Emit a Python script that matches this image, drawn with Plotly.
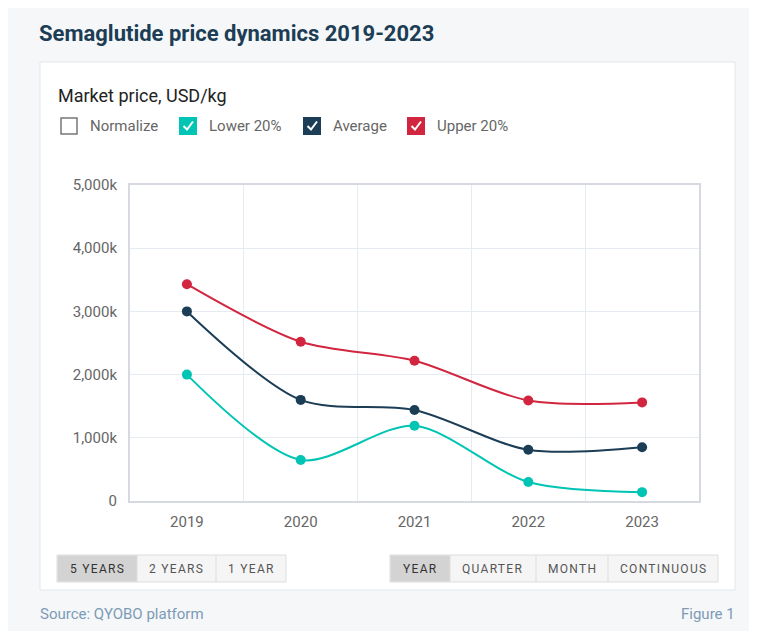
import plotly.graph_objects as go

# ---------------- data ----------------
years = ["2019", "2020", "2021", "2022", "2023"]
lower_20 = [2000000, 650000, 1190000, 300000, 140000]
average = [3000000, 1600000, 1440000, 810000, 850000]
upper_20 = [3430000, 2520000, 2220000, 1590000, 1560000]
y_tick_vals = [0, 1000000, 2000000, 3000000, 4000000, 5000000]
y_tick_text = ["0", "1,000k", "2,000k", "3,000k", "4,000k", "5,000k"]

series_names = ["Lower 20%", "Average", "Upper 20%"]
series_values = [lower_20, average, upper_20]
series_colors = ["#00c4b4", "#1b3d56", "#d2253f"]

# ---------------- geometry ----------------
W, H = 757, 623
OX, OY = 8, 8  # page offset of the figure
L, T = 122, 177
PW, PH = 569, 316
R, B = W - L - PW, H - T - PH


def X(px):
    return (px - OX - L) / PW


def Y(py):
    return 1 - (py - OY - T) / PH


FONT = "Roboto"
xs = list(range(len(years)))

fig = go.Figure()
for name, vals, col in zip(series_names, series_values, series_colors):
    fig.add_trace(go.Scatter(
        x=xs, y=vals, name=name, mode="lines+markers",
        line=dict(color=col, width=2, shape="spline", smoothing=0.85),
        marker=dict(color=col, size=10),
        showlegend=False,
    ))

shapes = []
annotations = []

# white panel
shapes.append(dict(type="rect", xref="paper", yref="paper", layer="below",
                   x0=X(40), x1=X(735), y0=Y(590), y1=Y(62),
                   fillcolor="white", line=dict(color="#e3e7eb", width=1)))

# title
annotations.append(dict(text="<b>Semaglutide price dynamics 2019-2023</b>", xref="paper", yref="paper",
                        x=X(37), y=Y(33), xanchor="left", yanchor="middle", showarrow=False,
                        font=dict(family=FONT, size=22, color="#1c3d54")))
annotations.append(dict(text="Market price, USD/kg", xref="paper", yref="paper",
                        x=X(56), y=Y(95), xanchor="left", yanchor="middle", showarrow=False,
                        font=dict(family=FONT, size=18, color="#222222")))

# checkbox legend
boxes = [("Normalize", 60, None), ("Lower 20%", 179, series_colors[0]),
         ("Average", 303, series_colors[1]), ("Upper 20%", 407, series_colors[2])]
for label, bx, col in boxes:
    y0, y1 = 117, 134
    if col is None:
        shapes.append(dict(type="rect", xref="paper", yref="paper",
                           x0=X(bx + 1), x1=X(bx + 17), y0=Y(y1), y1=Y(y0 + 1),
                           fillcolor="white", line=dict(color="#777777", width=1.5)))
    else:
        shapes.append(dict(type="rect", xref="paper", yref="paper",
                           x0=X(bx), x1=X(bx + 18), y0=Y(y1 + 1), y1=Y(y0),
                           fillcolor=col, line=dict(color=col, width=0)))
        path = "M {:.5f},{:.5f} L {:.5f},{:.5f} L {:.5f},{:.5f}".format(
            X(bx + 4.5), Y(126), X(bx + 8), Y(129.5), X(bx + 14), Y(121.5))
        shapes.append(dict(type="path", xref="paper", yref="paper", path=path,
                           line=dict(color="white", width=2)))
    annotations.append(dict(text=label, xref="paper", yref="paper",
                            x=X(bx + 28), y=Y(126), xanchor="left", yanchor="middle", showarrow=False,
                            font=dict(family=FONT, size=15, color="#666666")))

# button groups
button_groups = [
    [("5 YEARS", 57, 137, True), ("2 YEARS", 137, 216, False), ("1 YEAR", 216, 286, False)],
    [("YEAR", 390, 450, True), ("QUARTER", 450, 536, False), ("MONTH", 536, 608, False),
     ("CONTINUOUS", 608, 718, False)],
]
for group in button_groups:
    gx0, gx1 = group[0][1], group[-1][2]
    shapes.append(dict(type="rect", xref="paper", yref="paper",
                       x0=X(gx0), x1=X(gx1), y0=Y(582), y1=Y(555),
                       fillcolor="#f5f5f5", line=dict(color="#dddddd", width=1)))
    for label, bx0, bx1, sel in group:
        if sel:
            shapes.append(dict(type="rect", xref="paper", yref="paper",
                               x0=X(bx0 + 0.5), x1=X(bx1), y0=Y(581.5), y1=Y(555.5),
                               fillcolor="#d3d3d3", line=dict(width=0)))
        if bx0 != gx0:
            shapes.append(dict(type="line", xref="paper", yref="paper",
                               x0=X(bx0), x1=X(bx0), y0=Y(582), y1=Y(555),
                               line=dict(color="#dddddd", width=1)))
        annotations.append(dict(text='<span style="letter-spacing:1.3px">' + label + '</span>',
                                xref="paper", yref="paper",
                                x=X((bx0 + bx1) / 2), y=Y(569), xanchor="center", yanchor="middle",
                                showarrow=False,
                                font=dict(family=FONT, size=12, color="#333333" if sel else "#555555")))

# footer
annotations.append(dict(text="Source: QYOBO platform", xref="paper", yref="paper",
                        x=X(38), y=Y(614), xanchor="left", yanchor="middle", showarrow=False,
                        font=dict(family=FONT, size=15, color="#7d9bb5")))
annotations.append(dict(text="Figure 1", xref="paper", yref="paper",
                        x=X(737), y=Y(614), xanchor="right", yanchor="middle", showarrow=False,
                        font=dict(family=FONT, size=15, color="#7d9bb5")))

fig.update_layout(
    width=W, height=H,
    margin=dict(l=L, r=R, t=T, b=B, pad=0),
    paper_bgcolor="#f5f7f9", plot_bgcolor="white",
    font=dict(family=FONT, size=15, color="#666666"),
    shapes=shapes, annotations=annotations,
    xaxis=dict(range=[-0.5, len(years) - 0.5], tickmode="array", tickvals=xs, ticktext=years,
               showgrid=False, zeroline=False, showline=True, mirror=True,
               linecolor="#d6dae0", linewidth=2, ticks="", ticklabelstandoff=6,
               tickfont=dict(family=FONT, size=15, color="#666666"),
               minor=dict(tickmode="array", tickvals=[i + 0.5 for i in xs[:-1]],
                          showgrid=True, gridcolor="#e6eaf1", gridwidth=1, ticks="")),
    yaxis=dict(range=[0, 5000000], tickmode="array", tickvals=y_tick_vals, ticktext=y_tick_text,
               showgrid=True, gridcolor="#e6eaf1", gridwidth=1, zeroline=False,
               showline=True, mirror=True, linecolor="#d6dae0", linewidth=2, ticks="",
               ticklabelstandoff=8,
               tickfont=dict(family=FONT, size=15, color="#666666")),
)

fig.write_html("out.html")
